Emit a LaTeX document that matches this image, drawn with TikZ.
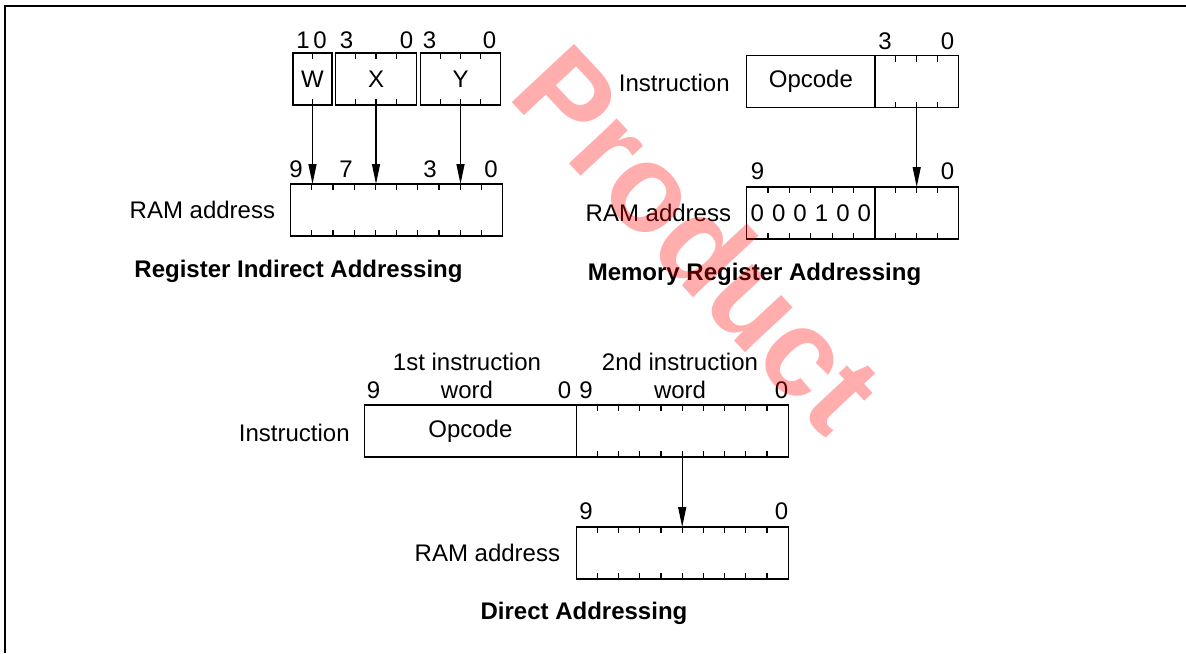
\documentclass[tikz,border=0pt]{standalone}
\usepackage{fontspec}
\setmainfont{Liberation Sans}
\usetikzlibrary{positioning,calc,arrows.meta}

\begin{document}
\begin{tikzpicture}[x=0.5pt, y=-0.5pt, font=\fontsize{12}{14}\selectfont,
  field/.style={rectangle, draw, line width=0.7pt, inner sep=0pt, outer sep=0pt, minimum height=26pt},
  caption/.style={font=\fontsize{12}{14}\selectfont\bfseries},
  feed/.style={-{Triangle[length=10pt,width=4pt]}, line width=0.6pt}]

\useasboundingbox (0,0) rectangle (1186,653);
% Frame
\draw[line width=1pt] (5,653) -- (5,6) -- (1186,6);

% Register indirect addressing
\node (wreg) [field, minimum width=19.5pt] at (312.5,79) {W};
\node (xreg) [field, minimum width=40.5pt] at (376,79) {X};
\node (yreg) [field, minimum width=40pt] at (460.5,79) {Y};
\node (ram1) [field, minimum width=106pt] at (396.5,210) {};

\node (w1) at (303,40) {1};
\node (w0) at (320,40) {0};
\node (x3) at (346.5,40) {3};
\node (x0) at (406.5,40) {0};
\node (y3) at (429.5,40) {3};
\node (y0) at (489.5,40) {0};
\node (r9) at (296,169) {9};
\node (r7) at (346,169) {7};
\node (r3) at (430,169) {3};
\node (r0) at (491,169) {0};

\node (ramtxt1) [anchor=east, inner sep=0pt] at (275.5,210) {RAM address};
\node (title1) [caption] at (298.5,271) {Register Indirect Addressing};

\draw[feed] (wreg.south) -- (wreg.south |- ram1.north);
\draw[feed] (xreg.south) -- (xreg.south |- ram1.north);
\draw[feed] (yreg.south) -- (yreg.south |- ram1.north);

% Memory register addressing
\node (mop) [field, minimum width=64.15pt] at (810.85,81.5) {Opcode};
\node (mlow) [field, minimum width=41.7pt, right=0pt of mop] {};
\node (mramhi) [field, minimum width=64.15pt] at (810.85,213) {};
\node (mramlo) [field, minimum width=41.7pt, right=0pt of mramhi] {};

\node (m3) at (885,41) {3};
\node (m0) at (947.5,41) {0};
\node (mr9) at (757.5,171) {9};
\node (mr0) at (947.5,171) {0};
\foreach \b [count=\k] in {0,0,0,1,0,0} {
  \pgfmathsetmacro\f{(\k-0.5)/6}
  \node (mbit\k) at ($(mramhi.west)!\f!(mramhi.east)$) {\b};
}

\node (insttxt1) [anchor=east, inner sep=0pt] at (730,83) {Instruction};
\node (ramtxt2) [anchor=east, inner sep=0pt] at (731.5,213) {RAM address};
\node (title2) [caption] at (754.5,274) {Memory Register Addressing};

\draw[feed] (mlow.south) -- (mlow.south |- mramlo.north);

% Direct addressing
\node (dword1) [field, minimum width=105.8pt] at (470.4,431) {Opcode};
\node (dword2) [field, minimum width=106pt, right=0pt of dword1] {};
\node (dram) [field, minimum width=106pt] at (682.2,553) {};

\node (d1top) at (467,362) {1st instruction};
\node (d2top) at (680,362) {2nd instruction};
\node (d19) at (373.5,390) {9};
\node (d1word) at (467,390) {word};
\node (d10) at (564.5,390) {0};
\node (d29) at (586,390) {9};
\node (d2word) at (680,390) {word};
\node (d20) at (781.5,390) {0};
\node (dr9) at (586,511) {9};
\node (dr0) at (781.5,511) {0};

\node (insttxt2) [anchor=east, inner sep=0pt] at (350,433) {Instruction};
\node (ramtxt3) [anchor=east, inner sep=0pt] at (560.5,553) {RAM address};
\node (title3) [caption] at (584,613) {Direct Addressing};

\draw[feed] (dword2.south) -- (dword2.south |- dram.north);

% bit ticks
\foreach \reg/\n in {wreg/2, xreg/4, yreg/4, ram1/10, mlow/4, mramhi/6, mramlo/4, dword2/10, dram/10}
  \foreach \i in {2,...,\n} {
    \pgfmathsetmacro\f{(\i-1)/\n}
    \draw[line width=0.6pt] ($(\reg.north west)!\f!(\reg.north east)$) -- ++(0,6);
    \draw[line width=0.6pt] ($(\reg.south west)!\f!(\reg.south east)$) -- ++(0,-6);
  }

% watermark
\node (stamp) [rotate=-47, text=red, text opacity=0.32, font=\fontsize{62}{62}\selectfont\bfseries] at (699,238) {Product};
\end{tikzpicture}
\end{document}
